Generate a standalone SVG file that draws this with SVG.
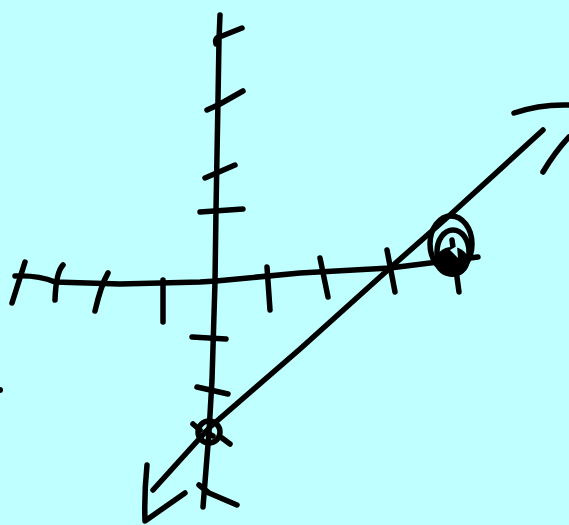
<svg xmlns="http://www.w3.org/2000/svg" width="569" height="525" viewBox="0 0 569 525">
<style>
.s{fill:none;stroke:#000;stroke-width:5.5;stroke-linecap:round;stroke-linejoin:round}
</style>
<rect width="569" height="525" fill="#C0FFFF"/>
<g id="y-axis">
<path class="s" d="M220,15 L219,40 L218,100 L216,210 L215,282 L212,380 L209,432 L203,507"/>
<path class="s" d="M216,44 Q214,37 222,36 L242,28"/>
<path class="s" d="M207,110 L220,104 L243,91"/>
<path class="s" d="M205,178 L235,165"/>
<path class="s" d="M200,212 L243,209"/>
<path class="s" d="M192,337 L226,339"/>
<path class="s" d="M197,387 L228,394"/>
<path class="s" d="M199,485 L209,493 L237,505"/>
</g>
<g id="x-axis">
<path class="s" d="M15,276 Q38,275 55,282 L120,284 L200,282 L216,281 L300,273 L390,268 L430,263 L478,257"/>
<path class="s" d="M25,262 L12,303"/>
<path class="s" d="M63,265 Q56,272 55,300"/>
<path class="s" d="M108,273 Q101,285 95,311"/>
<path class="s" d="M163,280 L163,322"/>
<path class="s" d="M267,267 L270,310"/>
<path class="s" d="M320,258 L328,297"/>
<path class="s" d="M387,250 L395,292"/>
<path class="s" d="M452,240 L459,292"/>
</g>
<g id="line">
<path class="s" d="M153,490 L210,427 L300,349 L390,268 L450,215 L543,130"/>
<path class="s" d="M514,113 Q540,104 569,105"/>
<path class="s" d="M543,172 Q555,152 569,137"/>
<path class="s" d="M147,465 Q144,495 145,521 L185,493"/>
</g>
<g id="point-b">
<circle class="s" cx="209" cy="432" r="11"/>
<path class="s" d="M193,424 L200,430"/>
<path class="s" d="M222,438 L230,444"/>
<path class="s" d="M205,432 L213,436"/>
</g>
<g id="point-a">
<ellipse class="s" cx="451" cy="244" rx="21" ry="28"/>
<ellipse class="s" cx="453" cy="252" rx="16" ry="22"/>
<ellipse cx="452" cy="262" rx="17" ry="15" fill="#000"/>
<path d="M450,250 L457,246 L458,258 Z" fill="#C0FFFF"/>
</g>
<circle cx="0" cy="390" r="3" fill="#000"/>
</svg>
